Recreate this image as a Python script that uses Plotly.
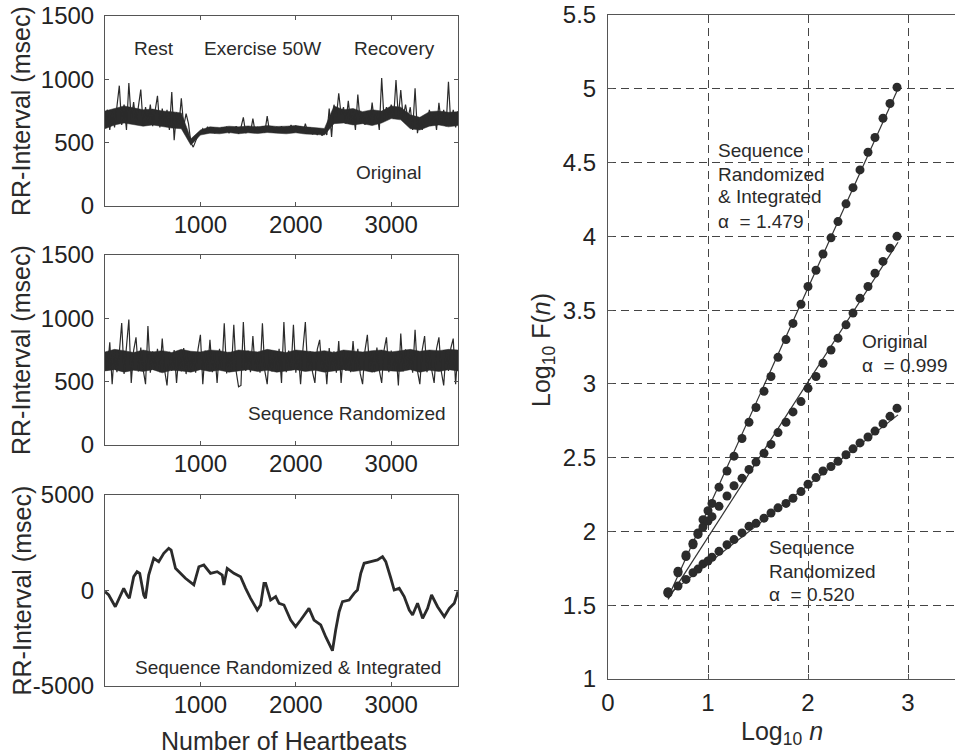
import plotly.graph_objects as go
import numpy as np

W, H = 955, 755

# ---------------- data ----------------
beat_step = 25
original_rr = [680, 760, 600, 750, 620, 780, 950, 640, 800, 600, 970, 680, 820, 650, 790, 920,
               640, 780, 660, 800, 630, 760, 870, 620, 770, 640, 760, 600, 900, 520, 740, 640,
               850, 630, 730, 650, 500, 465, 520, 560, 575, 610, 580, 625, 585, 620, 575, 615,
               580, 620, 580, 625, 575, 615, 585, 630, 570, 620, 700, 575, 625, 580, 690, 580,
               625, 585, 630, 580, 710, 585, 630, 580, 625, 590, 630, 580, 625, 590, 640, 585,
               635, 580, 630, 575, 650, 580, 620, 565, 610, 560, 605, 555, 600, 560, 770, 545,
               800, 700, 890, 720, 780, 650, 830, 660, 750, 600, 880, 660, 740, 640, 730, 650,
               816, 650, 740, 600, 1010, 680, 780, 700, 800, 690, 995, 700, 916, 700, 800, 690,
               780, 600, 930, 575, 690, 600, 700, 640, 760, 640, 740, 600, 815, 650, 760, 630,
               980, 640, 760, 620, 750]

randomized_rr = [720, 590, 810, 480, 750, 575, 730, 963, 560, 760, 990, 490, 745, 850, 580, 770,
                 595, 480, 940, 570, 740, 600, 760, 575, 840, 590, 470, 735, 585, 750, 490, 725,
                 580, 765, 560, 740, 595, 730, 570, 755, 870, 480, 745, 585, 830, 575, 740, 490,
                 760, 590, 960, 565, 735, 590, 950, 580, 460, 470, 970, 585, 745, 575, 860, 590,
                 730, 570, 960, 585, 480, 750, 580, 740, 595, 760, 490, 970, 575, 745, 590, 950,
                 570, 735, 480, 760, 970, 585, 740, 575, 490, 755, 830, 580, 735, 480, 765, 590,
                 740, 570, 820, 490, 750, 585, 735, 575, 820, 590, 760, 565, 480, 745, 870, 585,
                 740, 575, 770, 590, 490, 750, 850, 575, 745, 585, 730, 470, 880, 580, 755, 595,
                 740, 570, 910, 585, 480, 750, 860, 575, 745, 590, 490, 760, 850, 580, 470, 740,
                 585, 765, 840, 480, 750]

# dense core of each noisy trace, read every 100 beats (lower / upper edge)
band_step = 100
original_core_lo = [610, 640, 655, 640, 630, 640, 625, 615, 610, 480, 560,
                    575, 570, 580, 570, 578, 572, 580, 575, 570, 578, 568, 565, 560,
                    650, 655, 640, 650, 635, 655, 690, 680, 610, 600, 630, 640, 625, 635]
original_core_hi = [750, 770, 790, 775, 760, 765, 750, 745, 735, 530, 600,
                    625, 620, 630, 625, 632, 625, 635, 628, 630, 635, 625, 620, 612,
                    790, 760, 770, 745, 760, 750, 790, 780, 720, 700, 745, 750, 740, 745]
randomized_core_lo = [585, 595, 575, 590, 580, 595, 570, 590, 585, 575, 595, 580, 590, 575,
                      585, 595, 580, 590, 575, 585, 595, 580, 590, 575, 585, 595, 580, 590,
                      575, 590, 585, 580, 595, 575, 590, 580, 595, 585]
randomized_core_hi = [735, 755, 745, 730, 750, 735, 745, 730, 755, 740, 735, 750, 745, 730,
                      750, 740, 735, 755, 740, 730, 750, 740, 735, 745, 730, 750, 740, 735,
                      745, 750, 735, 745, 755, 740, 750, 745, 755, 750]

integrated_beats = [0, 39, 108, 143, 196, 231, 255, 301, 336, 364, 406, 424, 458, 511, 563, 616,
                    668, 693, 739, 791, 843, 931, 984, 1036, 1106, 1176, 1229, 1246, 1281, 1351,
                    1421, 1474, 1526, 1596, 1631, 1666, 1684, 1736, 1789, 1824, 1876, 1946, 1998,
                    2051, 2103, 2138, 2191, 2261, 2313, 2366, 2384, 2418, 2454, 2489, 2559, 2611,
                    2646, 2681, 2716, 2786, 2856, 2909, 2943, 2996, 3031, 3084, 3136, 3189, 3224,
                    3276, 3329, 3381, 3423, 3486, 3556, 3609, 3661, 3700]
integrated_rr = [-60, -235, -850, -500, 115, -235, -410, 725, 985, 900, -235, -410, 810, 1685,
                 1510, 1945, 2210, 2120, 1160, 900, 640, 290, 1245, 1335, 900, 985, 810, 290, 1160,
                 900, 725, 115, -410, -1020, -760, 375, 375, -500, -320, -670, -760, -1545, -1895,
                 -1545, -1195, -935, -1545, -1805, -2420, -2945, -3150, -2070, -1110, -585, -500,
                 -150, 25, 900, 1425, 1510, 1600, 1770, 1510, 640, 25, 115, -320, -1020, -1280,
                 -670, -1455, -935, -235, -850, -1370, -935, -670, -50]

log_n = [0.60, 0.70, 0.78, 0.85, 0.90, 0.95, 1.00, 1.04, 1.11, 1.19, 1.26, 1.34, 1.41, 1.48,
         1.56, 1.63, 1.70, 1.78, 1.85, 1.93, 2.00, 2.08, 2.15, 2.23, 2.30, 2.38, 2.45, 2.52,
         2.60, 2.67, 2.75, 2.82, 2.89]
logF_integrated = [1.59, 1.73, 1.83, 1.92, 1.99, 2.08, 2.14, 2.19, 2.30, 2.41, 2.51, 2.63, 2.74,
                   2.84, 2.95, 3.05, 3.18, 3.30, 3.41, 3.54, 3.66, 3.77, 3.88, 3.99, 4.10, 4.22,
                   4.33, 4.45, 4.57, 4.67, 4.80, 4.90, 5.01]
logF_original = [1.58, 1.72, 1.84, 1.91, 1.98, 2.03, 2.07, 2.10, 2.17, 2.24, 2.31, 2.36, 2.42,
                 2.47, 2.53, 2.59, 2.67, 2.74, 2.81, 2.88, 2.97, 3.05, 3.14, 3.23, 3.31, 3.40,
                 3.48, 3.58, 3.66, 3.75, 3.83, 3.92, 4.00]
logF_randomized = [1.59, 1.63, 1.675, 1.72, 1.745, 1.78, 1.80, 1.825, 1.865, 1.91, 1.945, 1.99,
                   2.035, 2.055, 2.09, 2.125, 2.16, 2.19, 2.225, 2.27, 2.32, 2.365, 2.41, 2.44,
                   2.475, 2.52, 2.56, 2.60, 2.64, 2.68, 2.73, 2.78, 2.835]
fit_x = [0.60, 2.90]
fit_integrated = [1.55, 5.00]
fit_original = [1.54, 3.96]
fit_randomized = [1.57, 2.79]

rr_ticks = [0, 500, 1000, 1500]
int_ticks = [-5000, 0, 5000]
int_ticklabels = ["-5000", "0", "5000"]
beat_ticks = [1000, 2000, 3000]
dfa_yticks = [1, 1.5, 2, 2.5, 3, 3.5, 4, 4.5, 5, 5.5]
dfa_xticks = [0, 1, 2, 3]

# ---------------- helpers ----------------
def px(x):
    return x / W

def py(y):
    return 1 - y / H

INK = "#2b2b2b"
AX = "#555555"
FONT = "Liberation Sans, Arial, sans-serif"

fig = go.Figure()

beats1 = np.arange(len(original_rr)) * beat_step
beats2 = np.arange(len(randomized_rr)) * beat_step
band_beats = np.arange(len(original_core_lo)) * band_step


def band(lo, hi, xa, ya):
    fig.add_trace(go.Scatter(x=band_beats, y=lo, mode="lines", line=dict(width=0.5, color=INK),
                             xaxis=xa, yaxis=ya, hoverinfo="skip"))
    fig.add_trace(go.Scatter(x=band_beats, y=hi, mode="lines", line=dict(width=0.5, color=INK),
                             fill="tonexty", fillcolor=INK,
                             xaxis=xa, yaxis=ya, hoverinfo="skip"))


band(original_core_lo, original_core_hi, "x", "y")
fig.add_trace(go.Scatter(x=beats1, y=original_rr, mode="lines",
                         line=dict(color=INK, width=1.2), xaxis="x", yaxis="y"))
band(randomized_core_lo, randomized_core_hi, "x2", "y2")
fig.add_trace(go.Scatter(x=beats2, y=randomized_rr, mode="lines",
                         line=dict(color=INK, width=1.2), xaxis="x2", yaxis="y2"))
fig.add_trace(go.Scatter(x=integrated_beats, y=integrated_rr, mode="lines",
                         line=dict(color=INK, width=2.8), xaxis="x3", yaxis="y3"))

for fy in (fit_integrated, fit_original, fit_randomized):
    fig.add_trace(go.Scatter(x=fit_x, y=fy, mode="lines",
                             line=dict(color="#333333", width=1.2), xaxis="x4", yaxis="y4"))
for ys in (logF_integrated, logF_original, logF_randomized):
    fig.add_trace(go.Scatter(x=log_n, y=ys, mode="markers",
                             marker=dict(color=INK, size=9, line=dict(width=0)),
                             xaxis="x4", yaxis="y4"))

TICKF = dict(family=FONT, size=24, color="#222222")


def left_axes(n, ydom, yr, yt, ytext=None):
    xa = dict(domain=[px(105), px(458)], range=[0, 3700], tickvals=beat_ticks,
              ticks="inside", ticklen=4, tickcolor=AX, showline=True, linecolor=AX,
              linewidth=1, mirror="ticks", showgrid=False, zeroline=False, automargin=False,
              tickfont=TICKF, anchor="y" + n, ticklabelstandoff=-3)
    ya = dict(domain=ydom, range=yr, tickvals=yt, ticks="inside", ticklen=4,
              tickcolor=AX, showline=True, linecolor=AX, linewidth=1, mirror="ticks",
              showgrid=False, zeroline=False, automargin=False, tickfont=TICKF,
              anchor="x" + n, ticklabelstandoff=5)
    if ytext is not None:
        ya["ticktext"] = ytext
    return xa, ya


x1, y1 = left_axes("", [py(206), py(16)], [0, 1500], rr_ticks)
x2, y2 = left_axes("2", [py(445), py(255)], [0, 1500], rr_ticks)
x3, y3 = left_axes("3", [py(686), py(495)], [-5000, 5000], int_ticks, int_ticklabels)
x1["anchor"] = "y"
y1["anchor"] = "x"

grid = dict(showgrid=True, gridcolor="#444444", gridwidth=1, griddash="8px,5px")
x4 = dict(domain=[px(608), 1.0], range=[0, 3.47], tickvals=dfa_xticks,
          ticks="inside", ticklen=5, tickcolor=AX, showline=True, linecolor=AX, linewidth=1,
          mirror=True, zeroline=False, automargin=False, tickfont=TICKF, anchor="y4",
          ticklabelstandoff=2, **grid)
y4 = dict(domain=[py(679), py(15)], range=[1, 5.5], tickvals=dfa_yticks,
          ticktext=[("%g" % v) for v in dfa_yticks],
          ticks="inside", ticklen=5, tickcolor=AX, showline=True, linecolor=AX, linewidth=1,
          mirror=False, zeroline=False, automargin=False, tickfont=TICKF, anchor="x4",
          ticklabelstandoff=6, **grid)

fig.update_layout(
    template="none",
    width=W, height=H, margin=dict(l=0, r=0, t=0, b=0, pad=0), autosize=False,
    paper_bgcolor="white", plot_bgcolor="white", showlegend=False,
    font=dict(family=FONT, color="#222222"),
    xaxis=x1, yaxis=y1, xaxis2=x2, yaxis2=y2, xaxis3=x3, yaxis3=y3, xaxis4=x4, yaxis4=y4,
)

ANN = dict(family=FONT, size=19, color="#2a2a2a")
TITLE = dict(family=FONT, size=25, color="#2a2a2a")


def note(text, x, y, font=ANN, xanchor="center", angle=0):
    fig.add_annotation(text=text, x=px(x), y=py(y), xref="paper", yref="paper",
                       showarrow=False, font=font, xanchor=xanchor, yanchor="middle",
                       textangle=angle)


note("Rest", 154, 49)
note("Exercise 50W", 262, 49)
note("Recovery", 394, 49)
note("Original", 388, 173)
note("Sequence Randomized", 347, 413)
note("Sequence Randomized &amp; Integrated", 288, 667)

for yc in ((16 + 206) / 2, (255 + 445) / 2, (495 + 686) / 2):
    note("RR-Interval (msec)", 21, yc, font=TITLE, angle=-90)
note("Number of Heartbeats", 284, 741, font=TITLE)

note("Sequence", 716, 150, xanchor="left")
note("Randomized", 716, 174, xanchor="left")
note("&amp; Integrated", 716, 197, xanchor="left")
note("α  = 1.479", 716, 221, xanchor="left")
note("Original", 860, 341, xanchor="left")
note("α  = 0.999", 860, 365, xanchor="left")
note("Sequence", 767, 547, xanchor="left")
note("Randomized", 767, 571, xanchor="left")
note("α  = 0.520", 767, 594, xanchor="left")

note("Log<sub>10</sub> F(<i>n</i>)", 543, 350, font=TITLE, angle=-90)
note("Log<sub>10</sub> <i>n</i>", 782, 733, font=TITLE)

fig.write_html("out.html")
